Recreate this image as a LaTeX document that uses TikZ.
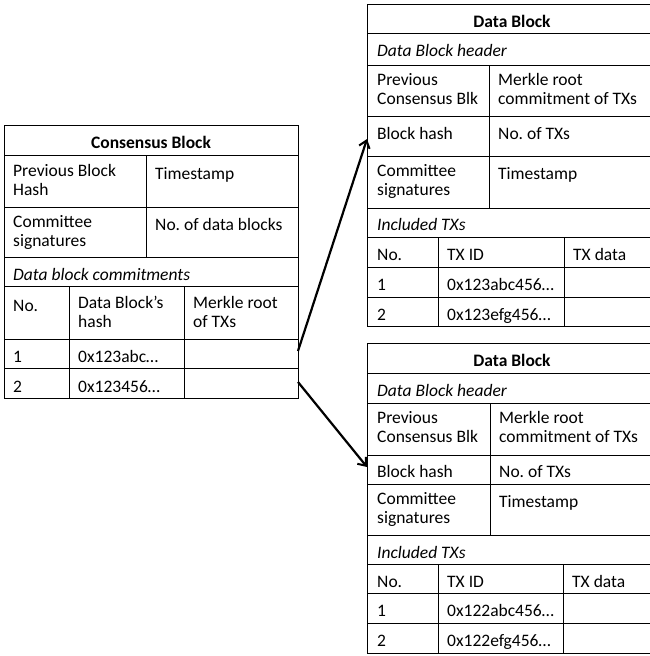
\documentclass[tikz,border=0pt]{standalone}
\usepackage{fontspec}
\setmainfont{Carlito}
\usetikzlibrary{arrows.meta}
\frenchspacing
\newcommand{\cellfont}{\fontsize{17.5}{19}\selectfont\frenchspacing}
\tikzset{
  grid/.style={line width=1pt, black},
  cell/.style={anchor=north west, inner sep=0pt, align=left, font=\cellfont,
    execute at begin node={\rule{0pt}{15pt}}},
  titlecell/.style={anchor=north, inner sep=0pt, font=\cellfont\bfseries,
    execute at begin node={\rule{0pt}{15pt}}},
  itcell/.style={cell, font=\cellfont\itshape},
  link/.style={line width=2.2pt, -{Straight Barb[length=7pt,width=11pt,line width=2pt]}}
}
\begin{document}
\begin{tikzpicture}[x=1pt,y=-1pt]
\useasboundingbox (0,0) rectangle (650,656);

% ---------- Consensus block ----------
\draw[grid] (4,125) rectangle (298,398);
\foreach \y in {155,207,257,286,339,368} \draw[grid] (4,\y) -- (298,\y);
\draw[grid] (146,155) -- (146,257);
\draw[grid] (69,286) -- (69,398);
\draw[grid] (184,286) -- (184,398);

\node[titlecell] (cbt) at (151,133) {Consensus Block};
\node[cell] (cpb) at (13,164) {Previous Block\\Hash};
\node[cell] (cts) at (155,164) {Timestamp};
\node[cell] (ccs) at (13,215) {Committee\\signatures};
\node[cell] (cnd) at (155,215) {No. of data blocks};
\node[itcell] (cdc) at (13,265) {Data block commitments};
\node[cell] (cno) at (13,296) {No.};
\node[cell] (cdh) at (78,296) {Data Block’s\\hash};
\node[cell] (cmr) at (193,296) {Merkle root\\of TXs};
\node[cell] (c1n) at (13,347) {1};
\node[cell] (c1h) at (78,347) {0x123abc…};
\node[cell] (c2n) at (13,377) {2};
\node[cell] (c2h) at (78,377) {0x123456…};

% ---------- Data block (top) ----------
\draw[grid] (367,4) -- (367,326);
\foreach \y in {4,33,65,116,156,208,237,267,297,326} \draw[grid] (367,\y) -- (650,\y);
\draw[grid] (489,65) -- (489,208);
\draw[grid] (438,237) -- (438,326);
\draw[grid] (564,237) -- (564,326);

\node[titlecell] (dat) at (512,12) {Data Block};
\node[itcell] (dah) at (377,41) {Data Block header};
\node[cell] (dap) at (377,73) {Previous\\Consensus Blk};
\node[cell] (dam) at (498,73) {Merkle root\\commitment of TXs};
\node[cell] (dab) at (377,124) {Block hash};
\node[cell] (dan) at (498,124) {No. of TXs};
\node[cell] (dac) at (377,164) {Committee\\signatures};
\node[cell] (das) at (498,164) {Timestamp};
\node[itcell] (dai) at (377,215) {Included TXs};
\node[cell] (dano) at (377,245) {No.};
\node[cell] (daid) at (447,245) {TX ID};
\node[cell] (dadt) at (573,245) {TX data};
\node[cell] (da1n) at (377,275) {1};
\node[cell] (da1h) at (447,275) {0x123abc456…};
\node[cell] (da2n) at (377,305) {2};
\node[cell] (da2h) at (447,305) {0x123efg456…};

% ---------- Data block (bottom) ----------
\draw[grid] (367,343) -- (367,653);
\foreach \y in {343,373,403,455,484,535,564,593,623,653} \draw[grid] (367,\y) -- (650,\y);
\draw[grid] (490,403) -- (490,535);
\draw[grid] (438,564) -- (438,653);
\draw[grid] (563,564) -- (563,653);

\node[titlecell] (dbt) at (512,351) {Data Block};
\node[itcell] (dbh) at (377,381) {Data Block header};
\node[cell] (dbp) at (377,411) {Previous\\Consensus Blk};
\node[cell] (dbm) at (499,411) {Merkle root\\commitment of TXs};
\node[cell] (dbb) at (377,462) {Block hash};
\node[cell] (dbn) at (499,462) {No. of TXs};
\node[cell] (dbc) at (377,492) {Committee\\signatures};
\node[cell] (dbs) at (499,492) {Timestamp};
\node[itcell] (dbi) at (377,543) {Included TXs};
\node[cell] (dbno) at (377,572) {No.};
\node[cell] (dbid) at (447,572) {TX ID};
\node[cell] (dbdt) at (572,572) {TX data};
\node[cell] (db1n) at (377,601) {1};
\node[cell] (db1h) at (447,601) {0x122abc456…};
\node[cell] (db2n) at (377,631) {2};
\node[cell] (db2h) at (447,631) {0x122efg456…};

% ---------- Links ----------
\coordinate (a1s) at (298,351);
\coordinate (a1e) at (367,139);
\coordinate (a2s) at (298,382);
\coordinate (a2e) at (367,467);
\draw[link] (a1s) -- (a1e);
\draw[link] (a2s) -- (a2e);
\end{tikzpicture}
\end{document}
